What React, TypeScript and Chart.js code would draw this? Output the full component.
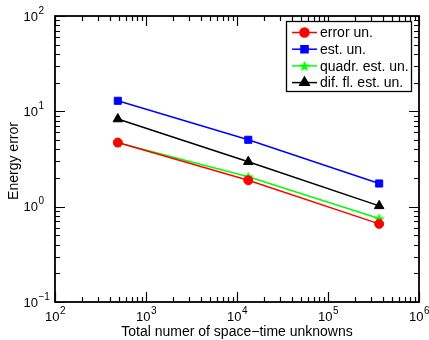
import React, { useEffect, useRef } from "react";
import { Chart, registerables } from "chart.js";
import { drawPoint } from "chart.js/helpers";
Chart.register(...registerables);

const unknowns = [490, 13300, 365000];
const errorUn = [4.7, 1.89, 0.66];
const estUn = [12.9, 5.03, 1.75];
const quadrEstUn = [4.69, 2.06, 0.75];
const difFlEstUn = [8.3, 2.96, 1.02];
const seriesLabels = ["error un.", "est. un.", "quadr. est. un.", "dif. fl. est. un."];
const seriesColors = ["#ff0000", "#0000ff", "#00ff00", "#000000"];
const xTickExponents = [2, 3, 4, 5, 6];
const yTickExponents = [-1, 0, 1, 2];
const xTitle = "Total numer of space\u2212time unknowns";
const yTitle = "Energy error";

const FONT = "'Liberation Sans', Arial, Helvetica, sans-serif";

function makeStar(color: string, size: number): HTMLCanvasElement {
  const c = document.createElement("canvas");
  c.width = size;
  c.height = size;
  const g = c.getContext("2d")!;
  const cx = size / 2, cy = size / 2 + 0.5;
  const ro = size / 2, ri = ro * 0.42;
  g.beginPath();
  for (let i = 0; i < 10; i++) {
    const r = i % 2 === 0 ? ro : ri;
    const a = -Math.PI / 2 + (i * Math.PI) / 5;
    const px = cx + r * Math.cos(a), py = cy + r * Math.sin(a);
    if (i === 0) g.moveTo(px, py); else g.lineTo(px, py);
  }
  g.closePath();
  g.fillStyle = color;
  g.fill();
  return c;
}

function sup(ctx: CanvasRenderingContext2D, exp: number, x: number, y: number, align: "center" | "baseRight") {
  const base = "10";
  const e = exp < 0 ? "\u2212" + Math.abs(exp) : String(exp);
  ctx.font = `13px ${FONT}`;
  const wb = ctx.measureText(base).width;
  ctx.font = `10px ${FONT}`;
  const we = ctx.measureText(e).width;
  const total = wb + we;
  const x0 = align === "center" ? x - total / 2 : x - wb;
  ctx.textAlign = "left";
  ctx.textBaseline = "middle";
  ctx.fillStyle = "#000";
  ctx.font = `13px ${FONT}`;
  ctx.fillText(base, x0, y);
  ctx.font = `10px ${FONT}`;
  ctx.fillText(e, x0 + wb + 0.5, y - 6);
}

export default function App() {
  const ref = useRef<HTMLCanvasElement>(null);
  useEffect(() => {
    const star = makeStar("#00ff00", 12);
    const styles: any[] = ["circle", "rect", star, "triangle"];
    const radii = [4.5, 5, 6, 5.5];
    const series = [errorUn, estUn, quadrEstUn, difFlEstUn];

    const axesPlugin = {
      id: "axesPlugin",
      afterDraw(chart: any) {
        const ctx: CanvasRenderingContext2D = chart.ctx;
        const a = chart.chartArea;
        const xs = chart.scales.x, ys = chart.scales.y;
        ctx.save();
        ctx.strokeStyle = "#000";
        ctx.lineWidth = 1.8;
        ctx.strokeRect(a.left, a.top, a.right - a.left, a.bottom - a.top);
        ctx.lineWidth = 1.2;
        for (let e = 2; e <= 6; e++) {
          for (let m = 1; m <= 9; m++) {
            if (e === 6 && m > 1) break;
            const px = Math.round(xs.getPixelForValue(m * Math.pow(10, e))) + 0.5;
            const len = m === 1 ? 10 : 5;
            ctx.beginPath();
            ctx.moveTo(px, a.bottom); ctx.lineTo(px, a.bottom - len);
            ctx.moveTo(px, a.top); ctx.lineTo(px, a.top + len);
            ctx.stroke();
          }
        }
        for (let e = -1; e <= 2; e++) {
          for (let m = 1; m <= 9; m++) {
            if (e === 2 && m > 1) break;
            const py = Math.round(ys.getPixelForValue(m * Math.pow(10, e))) + 0.5;
            const len = m === 1 ? 10 : 5;
            ctx.beginPath();
            ctx.moveTo(a.left, py); ctx.lineTo(a.left + len, py);
            ctx.moveTo(a.right, py); ctx.lineTo(a.right - len, py);
            ctx.stroke();
          }
        }
        xTickExponents.forEach((e) => {
          sup(ctx, e, xs.getPixelForValue(Math.pow(10, e)), a.bottom + 15, "center");
        });
        yTickExponents.forEach((e) => {
          sup(ctx, e, a.left - 17, ys.getPixelForValue(Math.pow(10, e)) + 1, "baseRight");
        });
        ctx.fillStyle = "#000";
        ctx.font = `14px ${FONT}`;
        ctx.textAlign = "center";
        ctx.textBaseline = "middle";
        ctx.fillText(xTitle, (a.left + a.right) / 2, a.bottom + 30);
        ctx.save();
        ctx.translate(14, (a.top + a.bottom) / 2 + 2);
        ctx.rotate(-Math.PI / 2);
        ctx.fillText(yTitle, 0, 0);
        ctx.restore();
        const lx1 = 286, lx2 = a.right - 8, ly1 = a.top + 5, ly2 = a.top + 75;
        ctx.fillStyle = "#fff";
        ctx.fillRect(lx1, ly1, lx2 - lx1, ly2 - ly1);
        ctx.lineWidth = 1.3;
        ctx.strokeStyle = "#000";
        ctx.strokeRect(lx1 + 0.5, ly1 + 0.5, lx2 - lx1, ly2 - ly1);
        seriesLabels.forEach((lab, i) => {
          const y = ly1 + 11.5 + i * 16.7;
          ctx.strokeStyle = seriesColors[i];
          ctx.lineWidth = 1.5;
          ctx.beginPath();
          ctx.moveTo(292, y); ctx.lineTo(317, y);
          ctx.stroke();
          ctx.fillStyle = seriesColors[i];
          drawPoint(ctx, { pointStyle: styles[i], radius: radii[i], rotation: 0, borderWidth: 1 } as any, 304.5, y);
          ctx.fillStyle = "#000";
          ctx.font = `14px ${FONT}`;
          ctx.textAlign = "left";
          ctx.textBaseline = "middle";
          ctx.fillText(lab, 320, y + 1);
        });
        ctx.restore();
      },
    };

    const chart = new Chart(ref.current!, {
      type: "line",
      data: {
        datasets: series.map((s, i) => ({
          label: seriesLabels[i],
          data: unknowns.map((u, j) => ({ x: u, y: s[j] })),
          borderColor: seriesColors[i],
          backgroundColor: seriesColors[i],
          borderWidth: 1.5,
          pointStyle: styles[i],
          pointRadius: radii[i],
          pointBorderWidth: 1,
          tension: 0,
        })),
      },
      options: {
        responsive: false,
        animation: false,
        devicePixelRatio: 1,
        layout: { padding: { left: 55, top: 16, right: 10, bottom: 38 } },
        scales: {
          x: { type: "logarithmic", min: 100, max: 1e6, display: false },
          y: { type: "logarithmic", min: 0.1, max: 100, display: false },
        },
        plugins: { legend: { display: false }, tooltip: { enabled: false } },
      },
      plugins: [axesPlugin],
    } as any);
    return () => chart.destroy();
  }, []);
  return (
    <div style={{ position: "fixed", left: 0, top: 0, width: 429, height: 340, background: "#fff" }}>
      <canvas ref={ref} width={429} height={340} />
    </div>
  );
}
